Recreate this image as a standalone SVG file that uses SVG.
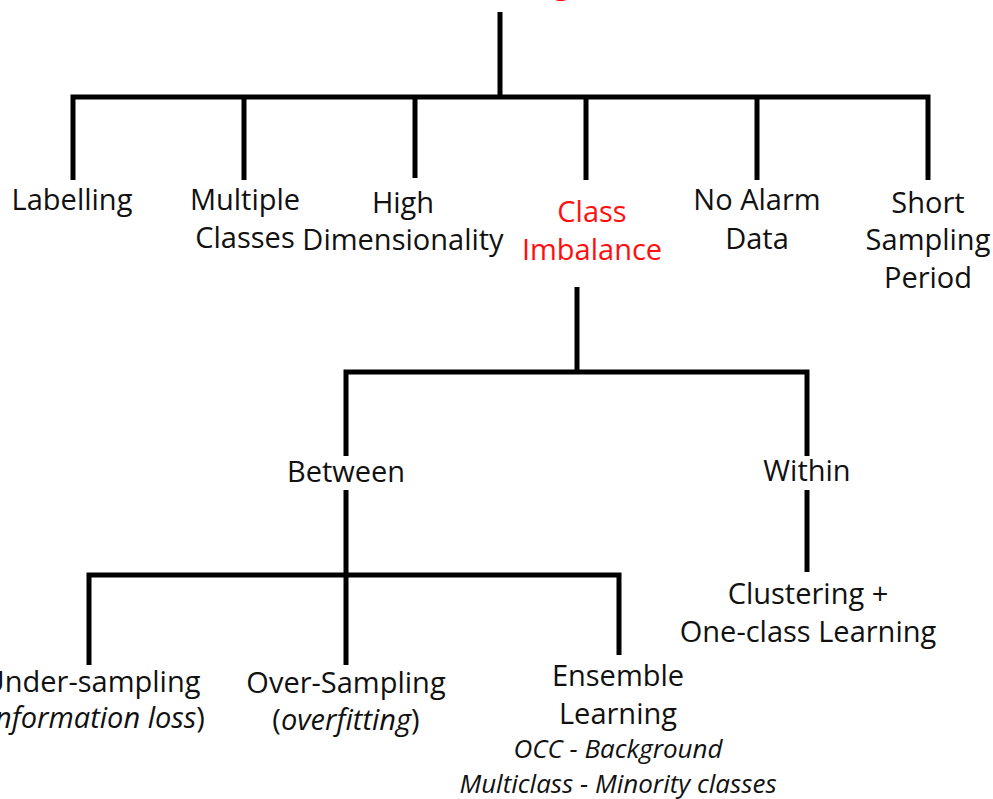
<svg xmlns="http://www.w3.org/2000/svg" width="993" height="799" viewBox="0 0 993 799">
<style>
text{font-family:"Open Sans","Noto Sans","Liberation Sans",sans-serif;font-size:29px;fill:#111;text-anchor:middle}
.red{fill:#ff1010}
.it{font-style:italic;font-size:26px}
.ln{stroke:#000;stroke-width:5;fill:none;stroke-linecap:butt;stroke-linejoin:miter}
</style>
<rect width="993" height="799" fill="#fff"/>
<g id="connectors" class="ln">
<path d="M500 12V97M73 180V97H928V180M244 97V180M415 97V178M586 97V180M757 97V180"/>
<path d="M577 287V372M346 456V372H807V456"/>
<path d="M346 490V665M89 665V575H619V655"/>
<path d="M807 490V572"/>
</g>
<g id="title"><text class="red" x="562" y="-7" style="font-weight:bold;font-size:32px">g</text></g>
<g id="labelling"><text x="72" y="210">Labelling</text></g>
<g id="multiple"><text x="245" y="210">Multiple</text><text x="245" y="248">Classes</text></g>
<g id="high"><text x="403" y="213">High</text><text x="403" y="250">Dimensionality</text></g>
<g id="class"><text class="red" x="592" y="222">Class</text><text class="red" x="592" y="260">Imbalance</text></g>
<g id="noalarm"><text x="757" y="210">No Alarm</text><text x="757" y="249">Data</text></g>
<g id="short"><text x="928" y="213">Short</text><text x="928" y="250">Sampling</text><text x="928" y="288">Period</text></g>
<g id="between"><text x="346" y="482">Between</text></g>
<g id="within"><text x="807" y="481">Within</text></g>
<g id="clustering"><text x="808" y="604">Clustering +</text><text x="808" y="642">One-class Learning</text></g>
<g id="under"><text x="92" y="692">Under-sampling</text><text x="92" y="728">(<tspan font-style="italic">information loss</tspan>)</text></g>
<g id="over"><text x="346" y="693">Over-Sampling</text><text x="346" y="730">(<tspan font-style="italic">overfitting</tspan>)</text></g>
<g id="ensemble"><text x="618" y="686">Ensemble</text><text x="618" y="724">Learning</text><text class="it" x="618" y="758">OCC - Background</text><text class="it" x="618" y="793">Multiclass - Minority classes</text></g>
</svg>
